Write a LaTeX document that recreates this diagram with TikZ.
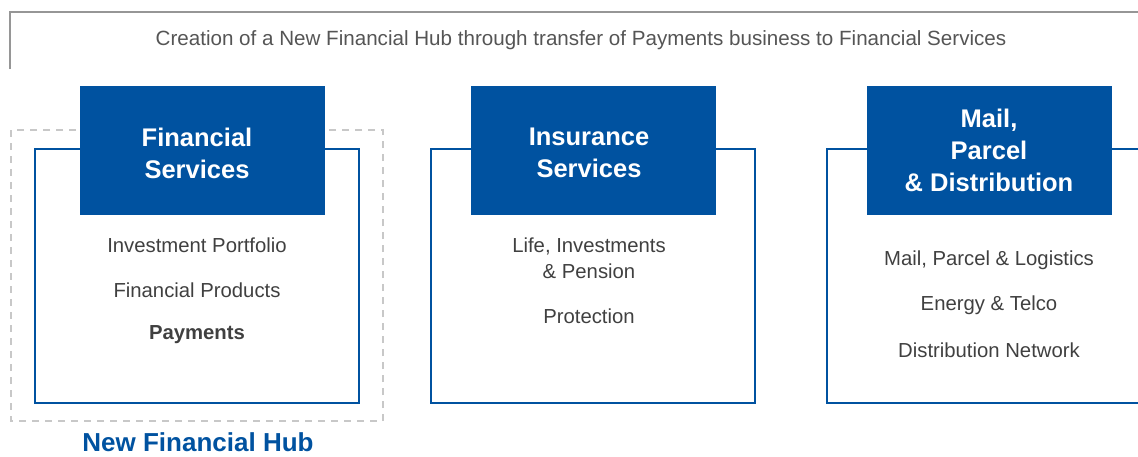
\documentclass[tikz,border=0pt]{standalone}
\usepackage{fontspec}
\setmainfont{Liberation Sans}
\definecolor{pblue}{RGB}{0,82,160}
\definecolor{ptext}{RGB}{64,64,64}
\definecolor{ptitle}{RGB}{85,85,85}
\definecolor{pframe}{RGB}{150,150,150}
\definecolor{pdash}{RGB}{200,200,200}
\begin{document}
\begin{tikzpicture}[x=1pt,y=-1pt,
  header/.style={fill=pblue,minimum width=245pt,minimum height=129pt,inner sep=0pt,anchor=north west},
  headtext/.style={text=white,font=\fontsize{25.5}{32}\selectfont\bfseries,align=center,inner sep=0pt},
  unitbox/.style={draw=pblue,line width=2.4pt},
  item/.style={text=ptext,font=\fontsize{20.3}{26}\selectfont,align=center,inner sep=0pt},
  hubbox/.style={draw=pdash,line width=2pt,dash pattern=on 7pt off 6pt}]
\useasboundingbox (0,0) rectangle (1138,456);
% top frame
\coordinate (tfa) at (10,69);
\coordinate (tfb) at (1138,12);
\draw[pframe,line width=1.5pt] (tfa) |- (tfb);
\node[text=ptitle,font=\fontsize{20.6}{24}\selectfont,inner sep=0pt] (title) at (581,40) {Creation of a New Financial Hub through transfer of Payments business to Financial Services};
% dashed hub
\draw[hubbox] (11,130) rectangle (383,421);
% outline boxes
\draw[unitbox] (35,149) rectangle (359,403);
\draw[unitbox] (431,149) rectangle (755,403);
\draw[unitbox] (1140,149) -- (827,149) -- (827,403) -- (1140,403);
% headers
\node[header] (fs) at (80,86) {};
\node[header] (ins) at (471,86) {};
\node[header] (mail) at (867,86) {};
\node[headtext] (fst) at (197,153) {Financial\\Services};
\node[headtext] (inst) at (589,153) {Insurance\\Services};
\node[headtext] (mailt) at (989,150) {Mail,\\Parcel\\\& Distribution};
% items
\node[item] (fs1) at (197,245) {Investment Portfolio};
\node[item] (fs2) at (197,290) {Financial Products};
\node[item,font=\fontsize{20.3}{26}\selectfont\bfseries] (fs3) at (197,335) {Payments};
\node[item] (in1) at (589,258) {Life, Investments\\\& Pension};
\node[item] (in2) at (589,316) {Protection};
\node[item] (ma1) at (989,260) {Mail, Parcel \& Logistics};
\node[item] (ma2) at (989,305) {Energy \& Telco};
\node[item] (ma3) at (989,350) {Distribution Network};
\node[text=pblue,font=\fontsize{26}{30}\selectfont\bfseries,inner sep=0pt] (hub) at (198,442) {New Financial Hub};
\end{tikzpicture}
\end{document}
